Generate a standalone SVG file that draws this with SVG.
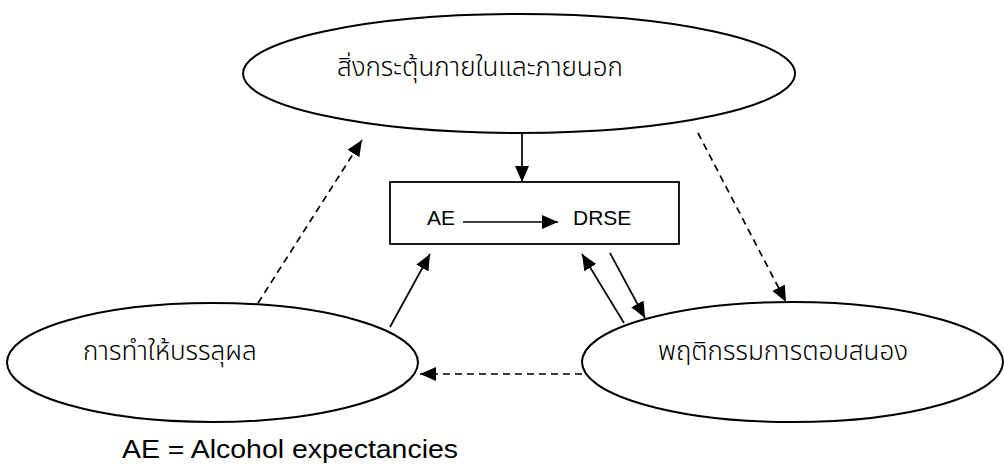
<svg xmlns="http://www.w3.org/2000/svg" width="1004" height="465" viewBox="0 0 1004 465">
<style>
.node{fill:#fff;stroke:#000;stroke-width:2}
.box{fill:#fff;stroke:#000;stroke-width:1.8}
.th{font-family:"Liberation Sans","Noto Sans Thai","Noto Sans",sans-serif;font-size:26px;font-weight:300;fill:#000}
.en{font-family:"Liberation Sans","Noto Sans",sans-serif;font-size:21px;fill:#000}
.c{stroke:#000;stroke-width:1.7;fill:none;marker-end:url(#ah)}
.d{stroke-dasharray:7 5}
</style>
<defs>
<marker id="ah" markerUnits="userSpaceOnUse" markerWidth="16" markerHeight="16" viewBox="0 0 16 14" refX="16" refY="7" orient="auto">
<path d="M0,0 L16,7 L0,14 z" fill="#000"/>
</marker>
</defs>
<rect width="1004" height="465" fill="#fff"/>
<g id="top-node">
<ellipse class="node" cx="519" cy="73.5" rx="276" ry="59.5"/>
<text class="th" x="337" y="76">สิ่งกระตุ้นภายในและภายนอก</text>
</g>
<g id="left-node">
<ellipse class="node" cx="212.5" cy="362.5" rx="205.5" ry="59.5"/>
<text class="th" x="83" y="360">การทำให้บรรลุผล</text>
</g>
<g id="right-node">
<ellipse class="node" cx="792.5" cy="362" rx="210.5" ry="60"/>
<text class="th" x="658" y="360">พฤติกรรมการตอบสนอง</text>
</g>
<g id="center-box">
<rect class="box" x="390" y="182" width="289" height="62"/>
<text class="en" x="427" y="225">AE</text>
<text class="en" x="573" y="225">DRSE</text>
</g>
<g id="connectors">
<line class="c" x1="463" y1="222" x2="558" y2="222"/>
<line class="c" x1="522" y1="133" x2="522" y2="182"/>
<line class="c d" x1="258" y1="303" x2="362" y2="140"/>
<line class="c d" x1="698" y1="133" x2="786" y2="302"/>
<line class="c d" x1="582" y1="374" x2="420" y2="374"/>
<line class="c" x1="390" y1="327" x2="430" y2="254"/>
<line class="c" x1="624" y1="323" x2="582" y2="254"/>
<line class="c" x1="610" y1="253" x2="645" y2="318"/>
</g>
<text id="footnote" x="122" y="458" textLength="336" lengthAdjust="spacingAndGlyphs" style="font-family:'Liberation Sans','Noto Sans',sans-serif;font-size:26px;fill:#000">AE = Alcohol expectancies</text>
</svg>
